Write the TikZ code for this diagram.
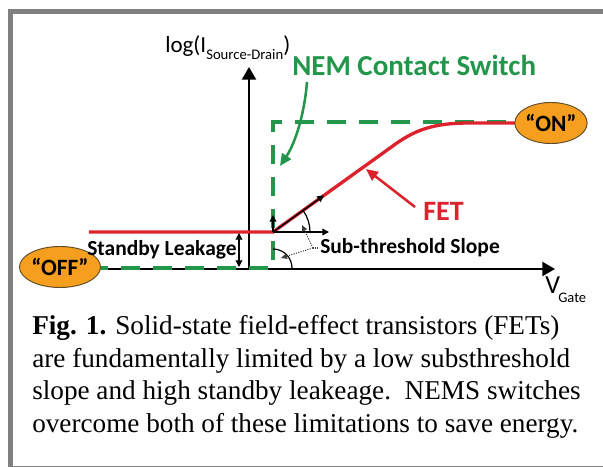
\documentclass[tikz,border=0pt]{standalone}
\usepackage{fontspec}
\setmainfont{Liberation Serif}
\newfontfamily\calfont{Carlito}
\usetikzlibrary{arrows.meta,shapes.geometric}
\definecolor{nemgreen}{RGB}{35,150,75}
\definecolor{fetred}{RGB}{220,35,45}
\definecolor{offorange}{RGB}{246,158,30}
\definecolor{framegray}{RGB}{128,128,128}
\definecolor{ovalline}{RGB}{95,75,40}
\begin{document}
\begin{tikzpicture}[x=0.75pt,y=-0.75pt,
  axis/.style={line width=1.6pt,-{Triangle[length=9.5pt,width=10.5pt]}},
  smallarrow/.style={line width=1.1pt,-{Triangle[length=5pt,width=5pt]}},
  nemdash/.style={nemgreen,line width=2.6pt,dash pattern=on 14.25pt off 9.75pt},
  fetline/.style={fetred,line width=2.5pt},
  state/.style={ellipse,draw=ovalline,line width=0.7pt,fill=offorange,inner sep=0pt,
    minimum width=42.5pt,minimum height=30.75pt,
    font=\calfont\bfseries\fontsize{17.5}{19}\selectfont},
  lbl/.style={anchor=base west,inner sep=0pt},
  captext/.style={anchor=base west,inner sep=0pt,font=\fontsize{20.4}{24}\selectfont},
  dotarrow/.style={densely dotted,line width=0.8pt,black!75,-{Triangle[length=4.5pt,width=4pt]}}
]
\useasboundingbox (0,0) rectangle (603,467);
\clip (0,0) rectangle (603,467);
\draw[framegray,line width=3.6pt] (10.8,11.2) rectangle (612,468.5);

% coordinates
\coordinate (O) at (249,270);
\coordinate (ytip) at (249,67);
\coordinate (xtip) at (555,269);
\coordinate (g1) at (273,268);
\coordinate (g2) at (273,122);
\coordinate (r0) at (273,232);
\coordinate (r1) at (390,148);
\coordinate (r2) at (470,123);

% ovals
\node[state] (off) at (60,267) {};
\node[state] (on) at (551,123) {};

% axes
\draw[axis] (off.east |- xtip) -- (xtip);
\draw[axis] (O) -- (ytip);

% NEM switch curve
\draw[nemdash] (off.east |- g1) -- (g1) -- (g2) -- (g2 -| on.west);

% FET curve
\draw[fetline] (off.east |- r0) -- (r0) -- (r1) .. controls (414,130) and (432,123) .. (r2) -- (on.west);

% oval texts on top
\node[state] at (off) {“OFF”};
\node[state] at (on) {“ON”};

% small arrows at the threshold point
\coordinate (up) at (273,215);
\coordinate (rt) at (329,232);
\coordinate (sl) at (324,195.4);
\draw[smallarrow] (r0) -- (up);
\draw[smallarrow] (r0) -- (rt);
\draw[smallarrow] (r0) -- (sl);

% angle arcs
\draw[line width=0.9pt] (310,232) arc[start angle=0,end angle=35.7,radius=27.75pt];
\draw[line width=0.9pt] (292,268) arc[start angle=0,end angle=90,radius=14.25pt];

% standby leakage arrow
\coordinate (s1) at (239,233);
\coordinate (s2) at (239,267);
\draw[line width=0.9pt,{Triangle[length=5pt,width=5pt]}-{Triangle[length=5pt,width=5pt]}] (s1) -- (s2);

% labels
\node[lbl] (ylab) at (165,53) {\calfont\fontsize{17.25}{20}\selectfont log(I\raisebox{-5.25pt}{\fontsize{11}{13}\selectfont Source-Drain})};
\node[lbl,text=nemgreen] (nem) at (292,75) {\calfont\bfseries\fontsize{21.75}{24}\selectfont NEM Contact Switch};
\node[lbl,text=fetred] (fet) at (423,220) {\calfont\bfseries\fontsize{21}{24}\selectfont FET};
\node[lbl] (standby) at (87,255) {\calfont\bfseries\fontsize{16.1}{18}\selectfont Standby Leakage};
\node[lbl] (sub) at (320,253) {\calfont\bfseries\fontsize{16.1}{18}\selectfont Sub-threshold Slope};
\node[lbl] (vg) at (545,293) {\calfont\fontsize{19.5}{22}\selectfont V};
\node[lbl] (gate) at (558,302) {\calfont\fontsize{10.9}{12}\selectfont Gate};

% label arrows
\coordinate (na) at (307,82);
\coordinate (nb) at (280,166);
\draw[nemgreen,line width=1.9pt,-{Triangle[length=9pt,width=8pt]}] (na) .. controls (304,118) and (294,145) .. (nb);
\coordinate (fa) at (415,207);
\coordinate (fb) at (366,169);
\draw[fetred,line width=1.9pt,-{Triangle[length=9pt,width=8pt]}] (fa) -- (fb);

% dotted pointers
\coordinate (J) at (313,248);
\coordinate (J0) at (318,248);
\coordinate (ua) at (302,225);
\coordinate (la) at (281,258);
\draw[densely dotted,line width=0.8pt,black!75] (J0) -- (J);
\draw[dotarrow] (J) -- (ua);
\draw[dotarrow] (J) -- (la);

% caption
\node[captext] (c1) at (32,334) {\textbf{Fig. 1.} Solid-state field-effect transistors (FETs)};
\node[captext] (c2) at (32,367) {are fundamentally limited by a low substhreshold};
\node[captext] (c3) at (32,399) {slope and high standby leakeage.\ \ NEMS switches};
\node[captext] (c4) at (32,432) {overcome both of these limitations to save energy.};
\end{tikzpicture}
\end{document}
